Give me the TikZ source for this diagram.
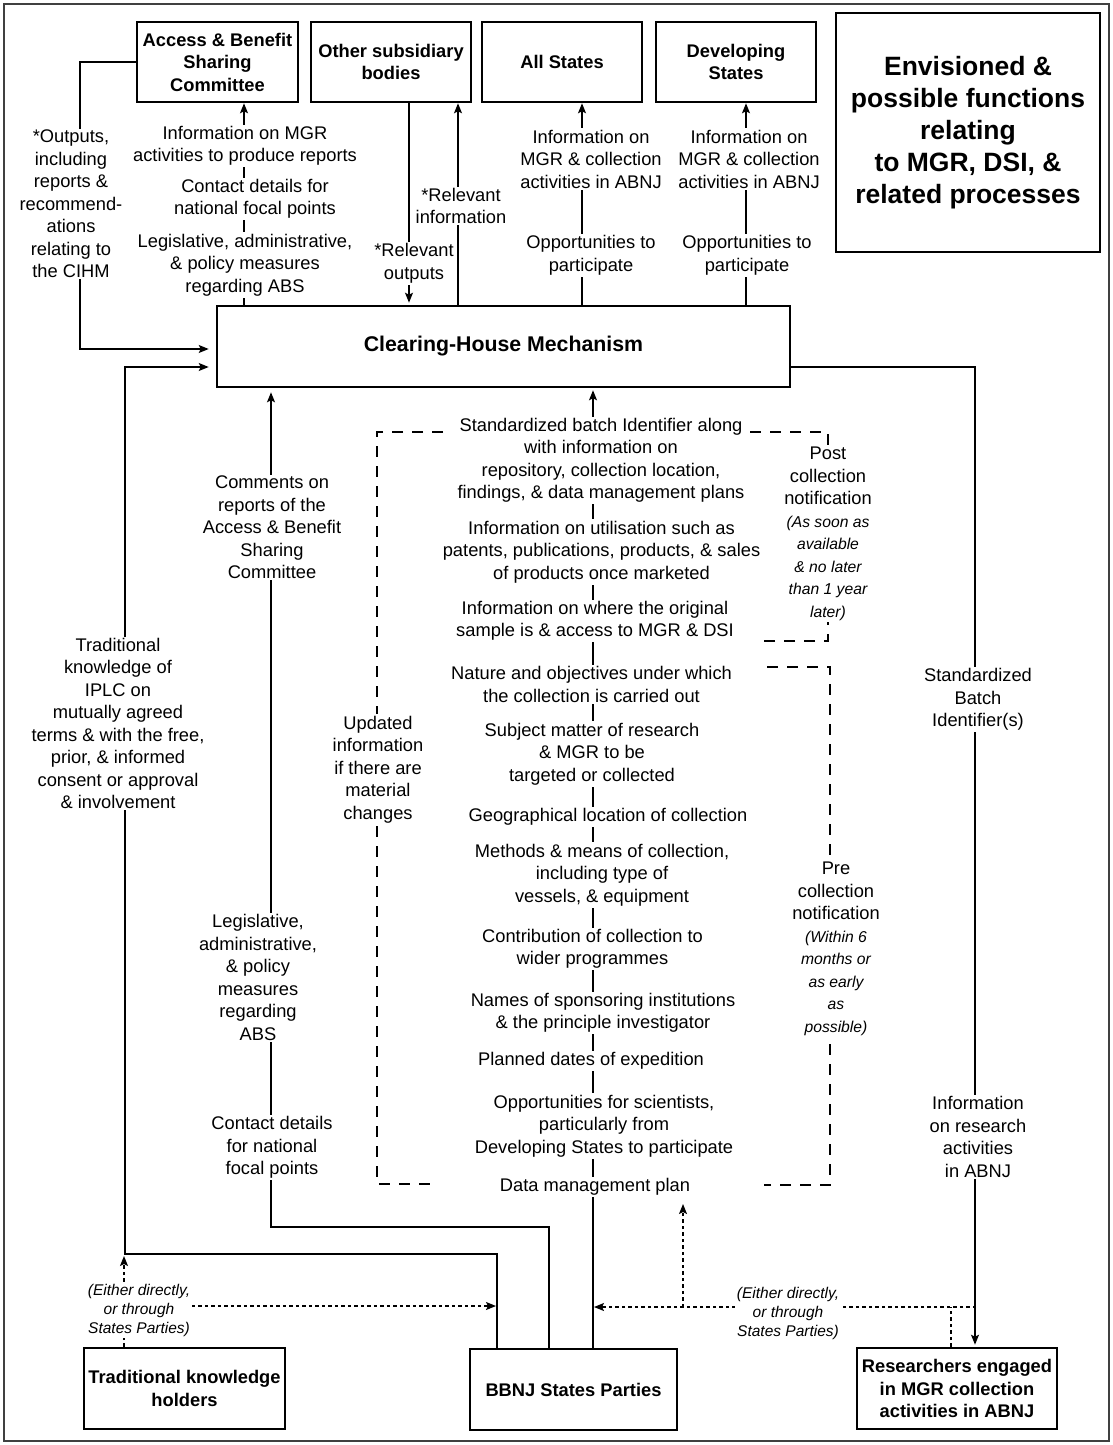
\documentclass[tikz,border=0pt]{standalone}
\usepackage{fontspec}
\setmainfont{Liberation Sans}
\usetikzlibrary{arrows.meta,backgrounds}
\newcommand\regf{\fontsize{18.3}{22.5}\selectfont}
\newcommand\itf{\itshape\fontsize{15.7}{22.5}\selectfont}
\newcommand\itvia{\itshape\fontsize{15.5}{19}\selectfont}
\begin{document}
\begin{tikzpicture}[x=1pt,y=-1pt,
  box/.style={draw, line width=2.6pt, fill=white, font=\bfseries\regf, align=center, inner sep=0pt},
  lbl/.style={fill=white, font=\regf, align=center, inner sep=1.5pt},
  via/.style={fill=white, font=\itvia, align=center, inner sep=1.5pt},
  tipst/.style={-{Stealth[length=10pt,width=8pt,inset=2pt]}},
  conn/.style={line width=1.4pt, tipst},
  dotl/.style={line width=1.3pt, dash pattern=on 3.5pt off 3pt},
  dotc/.style={dotl, tipst},
  brk/.style={line width=1.4pt, dash pattern=on 11pt off 9pt}
]
\useasboundingbox (0,0) rectangle (1113,1445);

% boxes
\node[box, minimum width=161pt, minimum height=80pt] (abs) at (217.5,62) {Access \& Benefit\\Sharing\\Committee};
\node[box, minimum width=160pt, minimum height=80pt] (osb) at (391,62) {Other subsidiary\\bodies};
\node[box, minimum width=160pt, minimum height=80pt] (all) at (562,62) {All States};
\node[box, minimum width=160pt, minimum height=80pt] (dev) at (736,62) {Developing\\States};
\node[box, minimum width=264pt, minimum height=239pt, font=\bfseries\fontsize{26.5}{32}\selectfont] (title) at (968,132.5) {Envisioned \&\\possible functions\\relating\\to MGR, DSI, \&\\related processes};
\node[box, minimum width=573pt, minimum height=81pt, font=\bfseries\fontsize{21.3}{26}\selectfont] (chm) at (503.5,346.5) {Clearing-House Mechanism};
\node[box, minimum width=201pt, minimum height=81pt] (tk) at (184.5,1388.5) {Traditional knowledge\\holders};
\node[box, minimum width=207pt, minimum height=81pt] (bbnj) at (573.5,1389.5) {BBNJ States Parties};
\node[box, minimum width=200pt, minimum height=81pt] (res) at (957,1388.5) {Researchers engaged\\in MGR collection\\activities in ABNJ};

% labels top
\node[lbl] (outputs) at (71,204) {*Outputs,\\including\\reports \&\\recommend-\\ations\\relating to\\the CIHM};
\node[lbl] (absi1) at (245,146) {Information on MGR\\activities to produce reports};
\node[lbl] (absi2) at (255,199) {Contact details for\\national focal points};
\node[lbl] (absi3) at (245,265) {Legislative, administrative,\\\& policy measures\\regarding ABS};
\node[lbl] (relinfo) at (461,206) {*Relevant\\information};
\node[lbl] (relout) at (414,263.5) {*Relevant\\outputs};
\node[lbl] (alli) at (591,159) {Information on\\MGR \& collection\\activities in ABNJ};
\node[lbl] (allo) at (591,255.5) {Opportunities to\\participate};
\node[lbl] (devi) at (749,159) {Information on\\MGR \& collection\\activities in ABNJ};
\node[lbl] (devo) at (747,255.5) {Opportunities to\\participate};

% labels left
\node[lbl] (comments) at (272,527.5) {Comments on\\reports of the\\Access \& Benefit\\Sharing\\Committee};
\node[lbl] (legis) at (258,977.5) {Legislative,\\administrative,\\\& policy\\measures\\regarding\\ABS};
\node[lbl] (contact) at (272,1147.5) {Contact details\\for national\\focal points};
\node[lbl] (tkl) at (118,723.5) {Traditional\\knowledge of\\IPLC on\\mutually agreed\\terms \& with the free,\\prior, \& informed\\consent or approval\\\& involvement};
\node[lbl] (updated) at (378,769.5) {Updated\\information\\if there are\\material\\changes};

% chain
\node[lbl] (c1) at (601,460.5) {Standardized batch Identifier along\\with information on\\repository, collection location,\\findings, \& data management plans};
\node[lbl] (c2) at (601.5,552) {Information on utilisation such as\\patents, publications, products, \& sales\\of products once marketed};
\node[lbl] (c3) at (595,621) {Information on where the original\\sample is \& access to MGR \& DSI};
\node[lbl] (c4) at (591.5,684.5) {Nature and objectives under which\\the collection is carried out};
\node[lbl] (c5) at (592,754) {Subject matter of research\\\& MGR to be\\targeted or collected};
\node[lbl] (c6) at (608,817) {Geographical location of collection};
\node[lbl] (c7) at (602,875) {Methods \& means of collection,\\including type of\\vessels, \& equipment};
\node[lbl] (c8) at (592.5,949) {Contribution of collection to\\wider programmes};
\node[lbl] (c9) at (603,1013) {Names of sponsoring institutions\\\& the principle investigator};
\node[lbl] (c10) at (591,1061) {Planned dates of expedition};
\node[lbl] (c11) at (604,1126) {Opportunities for scientists,\\particularly from\\Developing States to participate};
\node[lbl] (c12) at (595,1187) {Data management plan};

% right labels
\node[lbl] (post) at (828,534) {Post\\collection\\notification\\{\itf (As soon as}\\{\itf available}\\{\itf \& no later}\\{\itf than 1 year}\\{\itf later)}};
\node[lbl] (pre) at (836,949) {Pre\\collection\\notification\\{\itf (Within 6}\\{\itf months or}\\{\itf as early}\\{\itf as}\\{\itf possible)}};
\node[lbl] (stdb) at (978,699.5) {Standardized\\Batch\\Identifier(s)};
\node[lbl] (resinfo) at (978,1137) {Information\\on research\\activities\\in ABNJ};

% via labels
\node[via] (via1) at (139,1310) {(Either directly,\\or through\\States Parties)};
\node[via] (via2) at (788,1313.5) {(Either directly,\\or through\\States Parties)};

\begin{pgfonlayer}{background}
\draw[line width=1.6pt, black!75] (4,4) rectangle (1109,1441);

% left connectors
\coordinate (jA) at (80,349);
\draw[conn, shorten >=7pt] (abs.west) -| (jA) -- (jA -| chm.west);
\coordinate (b1) at (497,1349);
\coordinate (jB) at (125,1254);
\coordinate (jB2) at (125,367);
\draw[conn, shorten >=7pt] (b1 |- bbnj.north) |- (jB) -- (jB2) -- (jB2 -| chm.west);
\coordinate (b2) at (549,1349);
\coordinate (jC) at (271,1227);
\draw[conn, shorten >=4pt] (b2 |- bbnj.north) |- (jC) -- (jC |- chm.south);
\coordinate (b3) at (593,1349);
\draw[conn, shorten >=2pt] (b3 |- bbnj.north) -- (b3 |- chm.south);
\coordinate (jR) at (975,367);
\draw[conn, shorten >=2pt] (jR -| chm.east) -- (jR) -- (jR |- res.north);

% top connectors
\coordinate (t1) at (244,0);
\coordinate (t2) at (409,0);
\coordinate (t3) at (458,0);
\coordinate (t4) at (582,0);
\coordinate (t5) at (746,0);
\draw[conn] (t1 |- chm.north) -- (t1 |- abs.south);
\draw[conn, shorten >=2pt] (t2 |- osb.south) -- (t2 |- chm.north);
\draw[conn] (t3 |- chm.north) -- (t3 |- osb.south);
\draw[conn] (t4 |- chm.north) -- (t4 |- all.south);
\draw[conn] (t5 |- chm.north) -- (t5 |- dev.south);

% dotted
\coordinate (d1) at (124,1256);
\draw[dotc] (d1 |- tk.north) -- (d1);
\coordinate (d2) at (496,1306);
\draw[dotc] (via1.east |- d2) -- (d2);
\coordinate (d3) at (951,1307);
\draw[dotl] (d3 |- res.north) -- (d3);
\coordinate (d4) at (976,1307);
\coordinate (d5) at (594,1307);
\draw[dotc] (d4) -- (d5);
\coordinate (d6) at (683,1307);
\coordinate (d7) at (683,1204);
\draw[dotc] (d6) -- (d7);

% dashed brackets
\draw[brk] (443,432) -- (377,432) -- (377,1184) -- (438,1184);
\draw[brk] (750,432) -- (828,432) -- (828,641) -- (763,641);
\draw[brk] (767,667) -- (830,667) -- (830,1185) -- (764,1185);
\end{pgfonlayer}
\end{tikzpicture}
\end{document}
